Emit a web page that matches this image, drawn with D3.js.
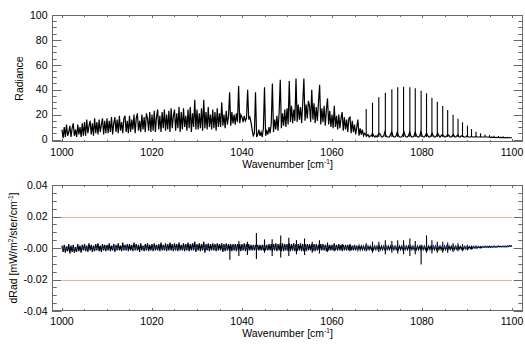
<!DOCTYPE html>
<html><head><meta charset="utf-8">
<script src="https://cdn.jsdelivr.net/npm/d3@7"></script>
<style>
body{margin:0;background:#fff}
svg{display:block}
text{font-family:"Liberation Sans",Arial,Helvetica,sans-serif;font-size:10.5px;fill:#000}
</style>
</head><body>
<svg id="chart" width="525" height="350"></svg>
<script>
// ---- data ----
const waveStart = 1000, waveStep = 0.25;
// continuum / dense part of the radiance spectrum (grid 1000..1100, step 0.25)
const radiance = [
8,1,10,2,12,3,6,11,2,9,13,3,8,2,12,4,10,2,13,3,
14,3,16,5,11,15,4,13,3,17,5,14,4,16,6,12,17,4,15,5,
17,5,15,6,18,4,13,18,6,16,5,19,7,14,5,17,19,6,15,5,
19,6,16,8,20,5,17,21,7,15,6,20,8,18,6,21,17,7,22,6,
20,7,23,6,18,24,8,19,6,22,9,24,7,20,8,23,6,25,9,19,
24,7,21,9,26,6,22,8,25,10,19,7,24,9,26,6,21,10,32,8,
24,8,21,9,25,7,32,9,22,8,26,10,20,8,24,9,22,7,25,10,
21,10,30,11,20,9,23,12,19,38,11,22,13,20,12,21,14,43,13,20,
18,14,19,15,17,40,16,18,14,8,3,5,38,2,4,8,3,6,2,9,
42,3,7,4,10,5,13,45,6,16,8,19,7,22,48,9,21,11,24,10,
25,12,47,14,27,13,24,15,49,14,28,16,26,13,30,49,15,28,17,31,
27,14,40,16,29,13,26,15,30,44,12,25,14,27,11,24,33,12,23,10,
20,9,27,10,19,8,20,9,17,22,7,18,8,16,6,17,18,5,15,6,
12,4,10,16,3,9,4,8,3,5,4,3,4,2,3,3,5,3,2,3,
2,4,5,4,2,2,3,6,3,2,2,2,4,6,3,2,2,3,6,3,
2,2,2,4,6,3,2,2,3,6,3,2,2,3,6,3,2,2,3,6,
3,2,2,3,5,3,2,2,3,5,3,2,2,3,5,3,2,3,4,3,
2,2,3,4,3,2,2,3,4,2,2,3,3.5,2,2,3,3,2,2,2,
3,2,2,2,2.5,2,2,2,2.5,2,2,2,2.2,2,2,2,2,2,2,2,
1.8,1.5,2,1.5,1.8,1.5,1.8,1.5,1.8,1.5,1.7,1.5,1.7,1.5,1.6,1.4,1.6,1.4,1.5,1.4,
1.4];
// rotational lines of the 1067-1100 band
const lineWave = [1067.6,1069.0,1070.4,1071.85,1073.3,1074.6,1075.9,1077.3,1078.5,1079.8,
  1081.0,1082.2,1083.4,1084.6,1085.7,1086.9,1088.0,1089.0,1090.1,1091.0,
  1092.0,1093.0,1094.0,1095.0,1096.0,1097.0,1098.0,1099.0];
const lineHeight = [24.5,29.6,33.9,37.6,40.3,41.9,42.4,41.9,41.1,39.2,
  37.1,33.6,30.4,26.9,23.7,19.9,16.7,13.8,11.1,8.4,
  6.3,5.0,4.0,3.5,3.0,2.8,2.5,2.2];
const lineBase = 2;
// radiance difference band (units of 0.001), same grid
const dRadMilli = [
1.5,-2.5,2,-3,1,-2,2.5,-3.5,1.5,-2.5,2,-3,0.5,-2.5,2.5,-2,1.5,-3,2,-1.5,
2.5,-2,1.5,-2.5,3,-1.5,2,-2.5,1.5,-2,2.5,-1.5,3,-2,1.5,-2.5,2.5,-1.5,2,-2,
2,-1.5,3,-2,1.5,-1.5,2.5,-2.5,2,-1.5,3,-1.5,1.5,-2,3.5,-1.5,2,-1.5,2.5,-2,
2.5,-1.5,2,-2,3.5,-1.5,2.5,-1.5,2,-2.5,3,-1.5,1.5,-2,2.5,-1.5,3,-2,2,-1.5,
2.5,-2,3,-1.5,2,-1.5,2.5,-2,3.5,-1.5,2,-1.5,3,-2,2.5,-1.5,3.5,-1.5,2.5,-2,
3,-1.5,2.5,-2,3.5,-1.5,2,-1.5,3,-2,2.5,-1.5,3.5,-2,2.5,-1.5,3,-1.5,4,-2.5,
2.5,-1.5,3,-2,2.5,-1.5,4,-3,2.5,-1.5,3,-2,2.5,-1.5,3,-1.5,2.5,-2,3,-1.5,
2.5,-1.5,3,-2.5,2.5,-2,3,-1.5,2.5,-2,2.5,-2,2.5,-1.5,2.5,-2,2.5,-1.5,2.5,-2,
2.5,-1.5,3,-2,2.5,-2,2.5,-1.5,2,-1.5,2,-1.5,2,-1.5,2,-1.5,2,-1.5,2,-1.5,
2.5,-1.5,2,-1.5,2.5,-1.5,2.5,-2,2.5,-1.5,3,-2,2.5,-1.5,3,-2,3,-2,2.5,-1.5,
2.5,-2,3,-2,2.5,-1.5,3,-2,2.5,-2,2.5,-1.5,3,-2,2.5,-2,2.5,-2,2.5,-1.5,
2.5,-1.5,2.5,-2,2.5,-2,2.5,-1.5,2,-1.5,2.5,-1.5,2.5,-1.5,2,-2,2.5,-1.5,2,-1.5,
2,-1.5,2.5,-1.5,2,-1.5,2.5,-1.5,2,-1.5,2,-1.5,2,-1.5,2,-1.5,2,-1.5,1.5,-1.5,
2,-1.5,1.5,-1.2,1.5,-1.2,1.2,-1,1.2,-1,1.2,-1,1.2,-1,1.2,-1,1.2,-1,1.2,-1,
1.2,-1,1.2,-1,1.2,-1,1.2,-1,1.2,-1,1.2,-1,1.2,-1,1.2,-1,1.2,-1,1.2,-1,
1.2,-1,1.2,-1,1.2,-1,1.2,-1,1.2,-1,1.2,-1,1.2,-1,1.2,-1,1.2,-1,1.2,-1,
1.2,-1,1.2,-1,1.2,-1,1.2,-1,1.2,-1,1.2,-1,1.2,-1,1.2,-1,1.2,-1,1.2,-1,
1.2,-1,1.2,-1,1.2,-0.9,1.1,-0.9,1.1,-0.8,1.1,-0.8,1,-0.7,1,-0.6,1,-0.6,1,-0.5,
0.9,-0.4,0.9,-0.3,0.9,-0.2,0.9,0,0.9,0,0.9,0.2,0.9,0.2,0.9,0.3,1,0.3,1,0.4,
1.2,0.4,0.9,0.5,1.2,0.5,0.9,0.6,1.2,0.7,1,0.7,1.2,0.8,1.1,0.8,1.3,0.9,1.4,1.1,
1.5];
// sharp dRad features at line positions (units of 0.001)
const spikeWave = [1037.3,1039.3,1041.2,1043.2,1045.0,1046.7,1048.6,1050.4,1052.1,1053.9,
  1055.6,1057.2,1059.0,1060.5,1062.3,1064.0,
  1067.6,1069.0,1070.4,1071.85,1073.3,1074.6,1075.9,1077.3,1078.5,1079.8,
  1081.0,1082.2,1083.4,1084.6,1085.7,1086.9,1088.0,1089.0,1090.1,1091.0,1092.0,1093.0];
const spikeHigh = [1.5,4.5,4,9.5,5.5,5.5,8,6.5,5,6,4,5,3.5,3,2.5,2.5,
  3,4,4,5,4.5,5,5,6,4.5,2,8,5,4,4,3.5,3,3,2.5,2,1.5,1.5,1.2];
const spikeLow = [-7.5,-5,-4.5,-7,-3,-5,-6,-5,-4,-4.5,-3,-3.5,-2.5,-2,-2,-2,
  -2,-3,-2.5,-4,-3,-3.5,-4,-5,-4,-10.5,-3,-3.5,-3,-3,-3,-2.5,-2,-2,-1.5,-1,-0.5,-0.3];
const biasWave = [1000,1010,1020,1030,1040,1050,1060,1070,1080,1090,1100];
const biasMilli = [-0.3,-0.1,0.1,0.2,0.3,0.3,0.3,0.3,0.5,0.7,1.0];
const limitValues = [0.02, -0.02];
const limitWave = [1000, 1100];
const xTicks = [1000,1020,1040,1060,1080,1100];
const radTicks = [0,20,40,60,80,100];
const dRadTicks = [0.04,0.02,0,-0.02,-0.04];
const dRadTickLabels = ["0.04","0.02","-0.00","-0.02","-0.04"];

// ---- layout ----
const svg = d3.select("#chart");
const L = 52, R = 523;
const P1 = {top: 15, bottom: 142};
const P2 = {top: 185, bottom: 311};
const x = d3.scaleLinear().domain([997.78, 1102.44]).range([L, R]);
const yR = d3.scaleLinear().domain([-2, 100]).range([P1.bottom, P1.top]);
const yD = d3.scaleLinear().domain([-0.04, 0.04]).range([P2.bottom, P2.top]);
const axisCol = "#6a6a6a";
const xMinor = d3.range(1000, 1101, 5);

function frame(y, P, yMajor, yMinor, yLabels) {
  const g = svg.append("g");
  const W = R - L, H = P.bottom - P.top;
  const yMaj = 0.02 * W, yMin = yMaj / 2, xMaj = 3, xMin = 2;
  g.append("rect").attr("x", L + 0.5).attr("y", P.top + 0.5)
    .attr("width", W - 1).attr("height", H - 1)
    .attr("fill", "none").attr("stroke", axisCol).attr("stroke-width", 1);
  const ticks = g.append("g").attr("stroke", axisCol).attr("stroke-width", 1);
  xMinor.forEach(v => {
    const len = xTicks.includes(v) ? xMaj : xMin;
    const px = Math.round(x(v)) + 0.5;
    ticks.append("line").attr("x1", px).attr("x2", px).attr("y1", P.bottom).attr("y2", P.bottom - len);
    ticks.append("line").attr("x1", px).attr("x2", px).attr("y1", P.top).attr("y2", P.top + len);
  });
  yMinor.forEach(v => {
    const isMaj = yMajor.some(m => Math.abs(m - v) < 1e-9);
    const len = isMaj ? yMaj : yMin;
    const py = Math.round(y(v)) + 0.5;
    ticks.append("line").attr("x1", L).attr("x2", L + len).attr("y1", py).attr("y2", py);
    ticks.append("line").attr("x1", R).attr("x2", R - len).attr("y1", py).attr("y2", py);
  });
  xTicks.forEach(v => {
    g.append("text").attr("x", x(v)).attr("y", P.bottom + 14)
      .attr("text-anchor", "middle").text(v);
  });
  yMajor.forEach((v, i) => {
    g.append("text").attr("x", 47.5).attr("y", y(v)).attr("dy", "0.36em")
      .attr("text-anchor", "end").text(yLabels[i]);
  });
  const xt = g.append("text").attr("x", (L + R) / 2).attr("y", P.bottom + 25.5)
    .attr("text-anchor", "middle");
  xt.append("tspan").text("Wavenumber [cm");
  xt.append("tspan").attr("dy", -3.5).attr("font-size", "6.5px").text("-1");
  xt.append("tspan").attr("dy", 3.5).text("]");
}

frame(yR, P1, radTicks, d3.range(0, 101, 5), radTicks.map(String));
frame(yD, P2, dRadTicks, d3.range(-8, 9).map(k => k * 0.005), dRadTickLabels);

// y titles
svg.append("text").attr("transform", `translate(22.5,${(P1.top + P1.bottom) / 2}) rotate(-90)`)
  .attr("text-anchor", "middle").text("Radiance");
const yt = svg.append("text").attr("transform", `translate(16.5,${(P2.top + P2.bottom) / 2}) rotate(-90)`)
  .attr("text-anchor", "middle");
yt.append("tspan").text("dRad [mW/m");
yt.append("tspan").attr("dy", -3.5).attr("font-size", "6.5px").text("2");
yt.append("tspan").attr("dy", 3.5).text("/ster/cm");
yt.append("tspan").attr("dy", -3.5).attr("font-size", "6.5px").text("-1");
yt.append("tspan").attr("dy", 3.5).text("]");

// ---- top panel data ----
const waveAt = i => waveStart + i * waveStep;
svg.append("path").datum(radiance)
  .attr("d", d3.line().x((d, i) => x(waveAt(i))).y(d => yR(d)))
  .attr("fill", "none").attr("stroke", "#000").attr("stroke-width", 1.2);
svg.append("g").selectAll("line").data(lineWave).join("line")
  .attr("x1", d => x(d)).attr("x2", d => x(d))
  .attr("y1", yR(lineBase)).attr("y2", (d, i) => yR(lineHeight[i]))
  .attr("stroke", "#000").attr("stroke-width", 1.1);

// ---- bottom panel ----
limitValues.forEach(v => {
  svg.append("line").attr("x1", x(limitWave[0])).attr("x2", x(limitWave[1]))
    .attr("y1", Math.round(yD(v)) + 0.5).attr("y2", Math.round(yD(v)) + 0.5)
    .attr("stroke", "#ffa89e").attr("stroke-width", 1);
});
svg.append("path").datum(dRadMilli)
  .attr("d", d3.line().x((d, i) => x(waveAt(i))).y(d => yD(d / 1000)))
  .attr("fill", "none").attr("stroke", "#000").attr("stroke-width", 1.2);
svg.append("g").selectAll("line").data(spikeWave).join("line")
  .attr("x1", d => x(d)).attr("x2", d => x(d))
  .attr("y1", (d, i) => yD(spikeLow[i] / 1000)).attr("y2", (d, i) => yD(spikeHigh[i] / 1000))
  .attr("stroke", "#000").attr("stroke-width", 1.1);
svg.append("path").datum(biasMilli)
  .attr("d", d3.line().x((d, i) => x(biasWave[i])).y(d => yD(d / 1000)))
  .attr("fill", "none").attr("stroke", "#2b5ce6").attr("stroke-opacity", 0.55)
  .attr("stroke-width", 2).attr("stroke-dasharray", "6,4");
</script>
</body></html>
